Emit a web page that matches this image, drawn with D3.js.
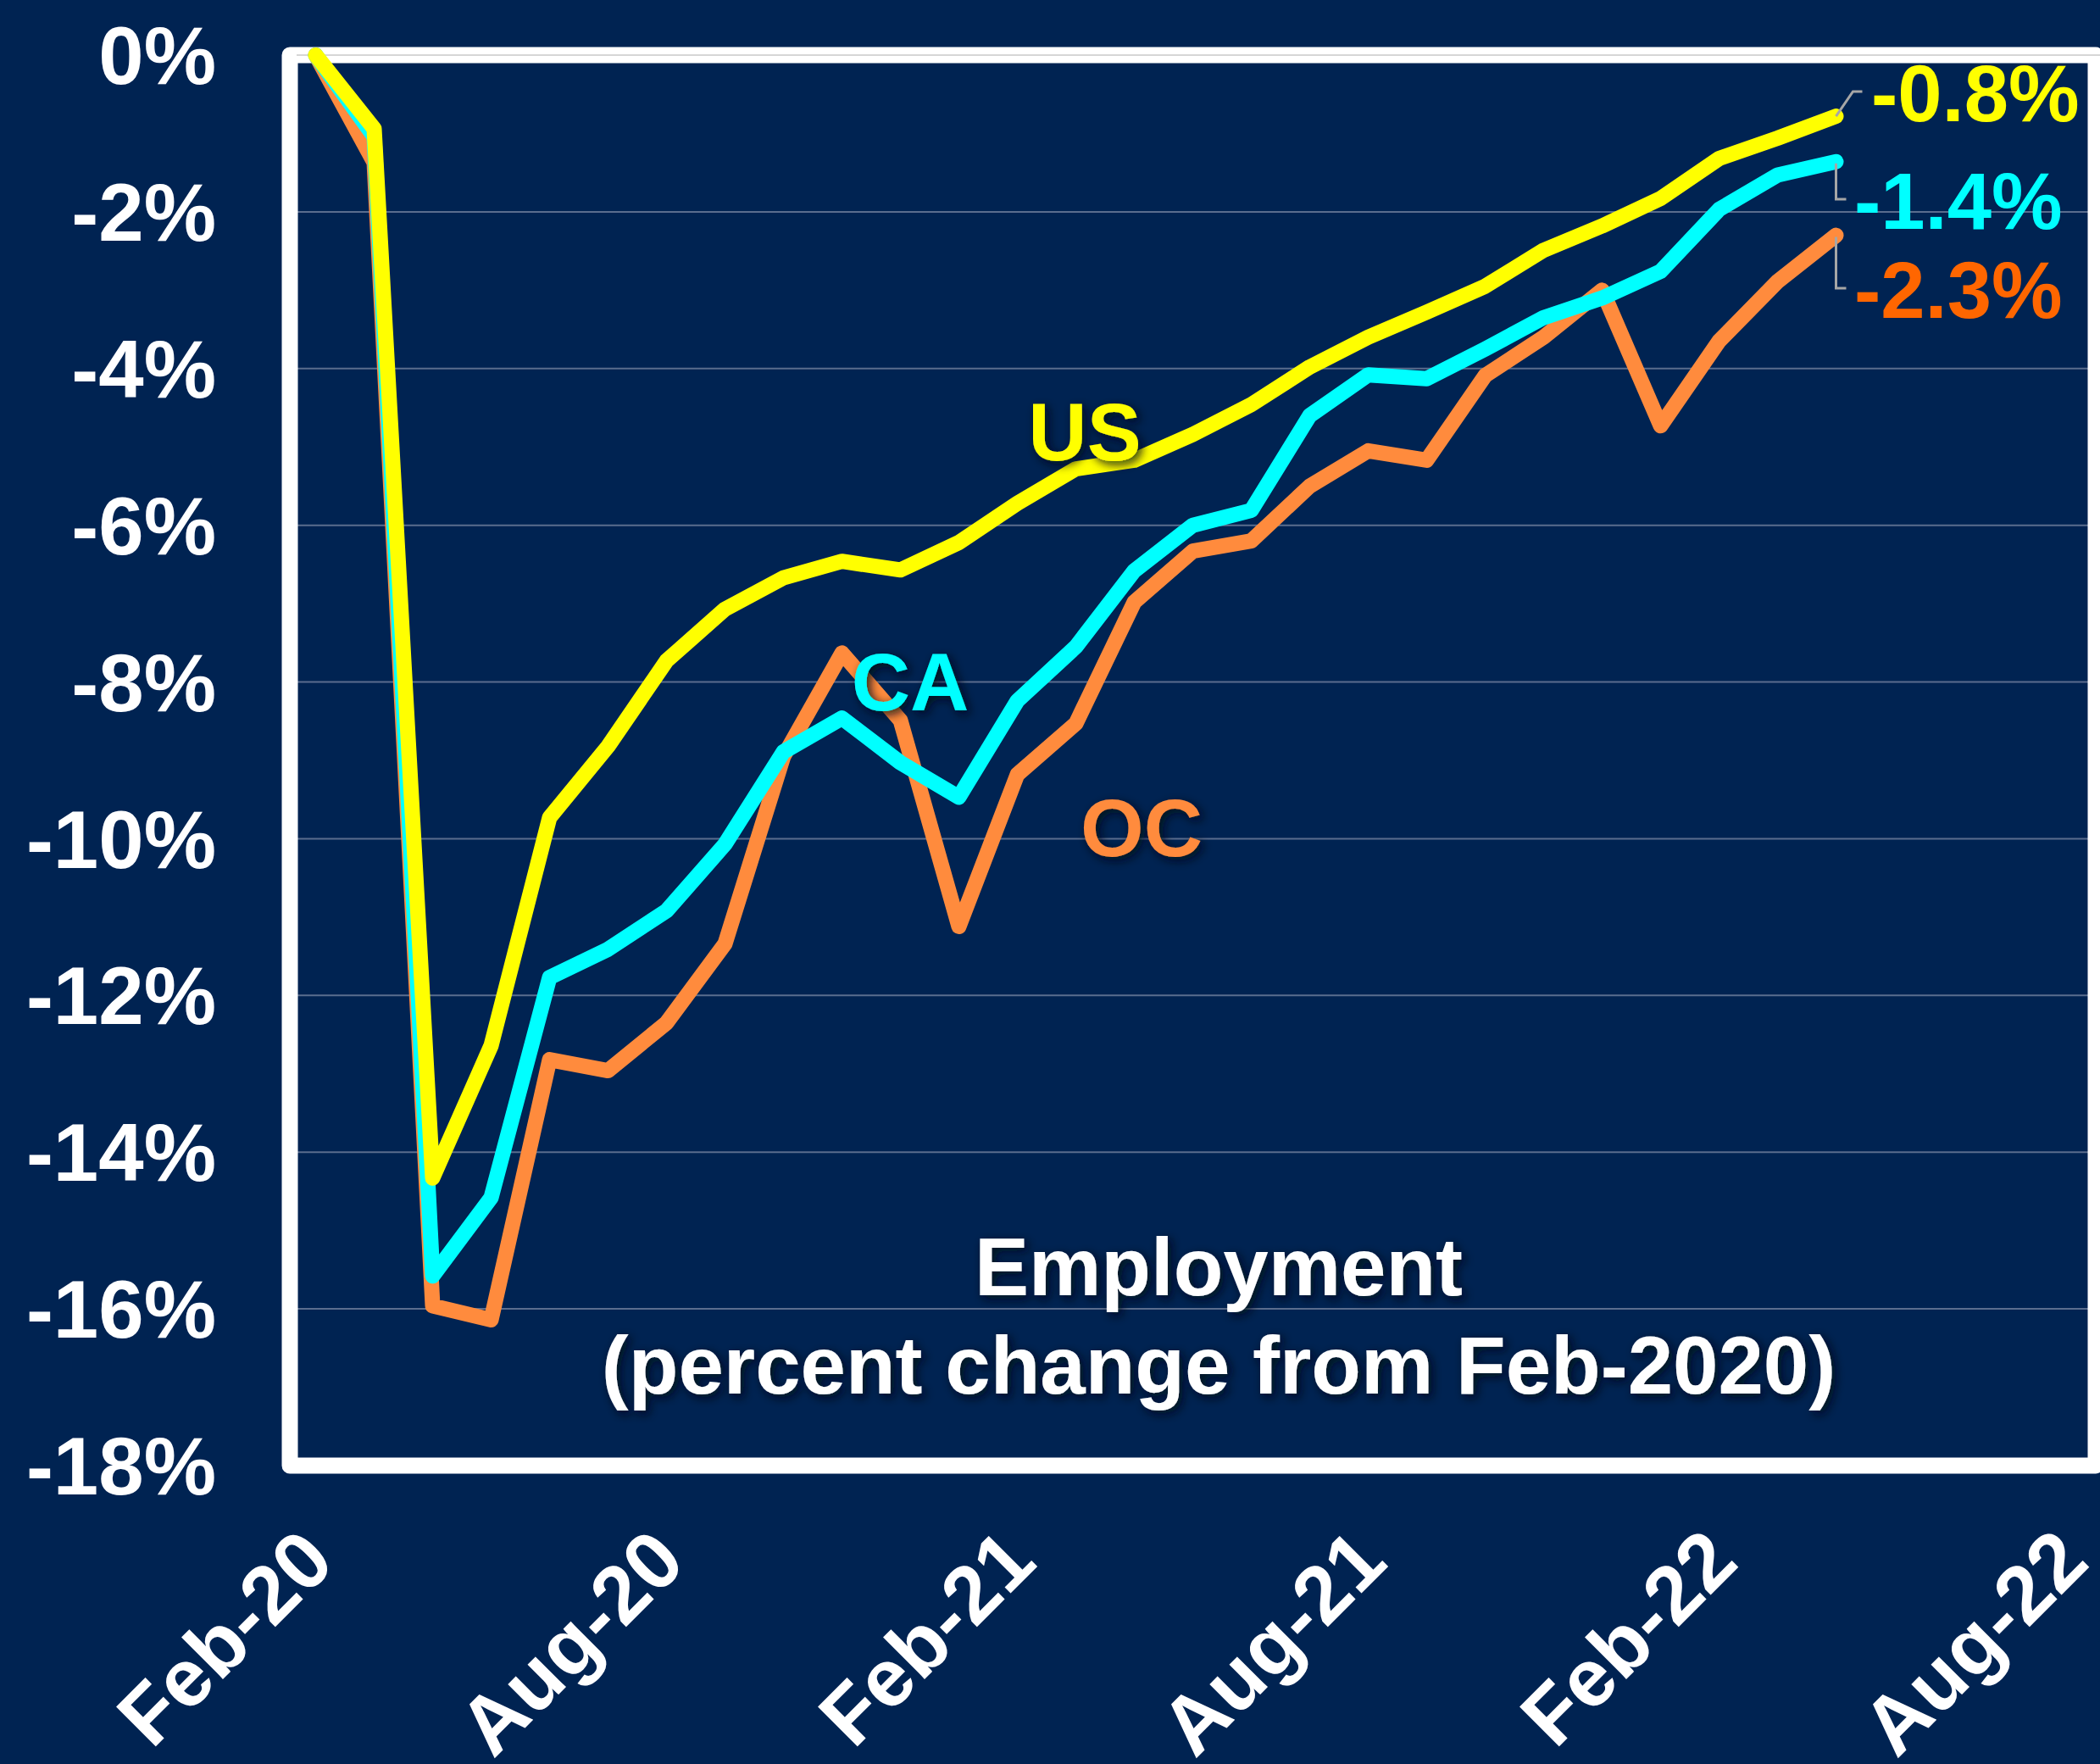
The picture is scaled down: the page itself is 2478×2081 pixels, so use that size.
<!DOCTYPE html>
<html>
<head>
<meta charset="utf-8">
<script src="https://cdn.jsdelivr.net/npm/d3@7"></script>
<style>
  body { margin: 0; background: #002352; }
  svg text { font-family: Arial, "Liberation Sans", sans-serif; font-weight: bold; }
</style>
</head>
<body>
<div id="Chart"></div>
<script>
// categories on the x axis (Feb-20 .. Aug-22), data runs to Apr-22
var months = ["Feb-20","Mar-20","Apr-20","May-20","Jun-20","Jul-20","Aug-20","Sep-20","Oct-20","Nov-20","Dec-20",
              "Jan-21","Feb-21","Mar-21","Apr-21","May-21","Jun-21","Jul-21","Aug-21","Sep-21","Oct-21","Nov-21","Dec-21",
              "Jan-22","Feb-22","Mar-22","Apr-22","May-22","Jun-22","Jul-22","Aug-22"];
var tickLabels = ["Feb-20","Aug-20","Feb-21","Aug-21","Feb-22","Aug-22"];
var yTicks = [0,-2,-4,-6,-8,-10,-12,-14,-16,-18];

// percent change from Feb-2020
var us = [0,-0.94,-14.33,-12.64,-9.73,-8.82,-7.73,-7.07,-6.67,-6.46,-6.57,-6.22,-5.72,-5.28,-5.17,-4.84,-4.46,-3.98,
          -3.6,-3.28,-2.95,-2.49,-2.18,-1.83,-1.32,-1.06,-0.78];
var ca = [0,-1.04,-15.58,-14.58,-11.77,-11.41,-10.92,-10.07,-8.89,-8.46,-9.03,-9.47,-8.24,-7.55,-6.58,-6.0,-5.81,-4.6,
          -4.08,-4.13,-3.75,-3.35,-3.1,-2.76,-1.97,-1.53,-1.36];
var oc = [0,-1.37,-15.96,-16.14,-12.82,-12.96,-12.35,-11.34,-8.95,-7.63,-8.49,-11.12,-9.18,-8.53,-6.98,-6.33,-6.2,-5.5,
          -5.05,-5.17,-4.09,-3.6,-3.0,-4.73,-3.65,-2.89,-2.3];
var endLabels = ["-0.8%","-1.4%","-2.3%"];

var W = 2478, H = 2081;
var svg = d3.select("#Chart").append("svg")
            .attr("width", W).attr("height", H);

svg.append("rect").attr("width", W).attr("height", H).attr("fill", "#002352");

var defs = svg.append("defs");
var f = defs.append("filter").attr("id", "shadow")
            .attr("x", "-20%").attr("y", "-30%").attr("width", "140%").attr("height", "160%");
f.append("feDropShadow").attr("dx", 4).attr("dy", 4).attr("stdDeviation", 6)
 .attr("flood-color", "#000814").attr("flood-opacity", 0.9);

// scales
var x = d3.scalePoint().domain(months).range([338, 2477]).padding(0.5);
var y = d3.scaleLinear().domain([-18, 0]).range([1729, 65]);

// gridlines
svg.append("g").selectAll("line")
   .data(yTicks.filter(d => d < 0 && d > -18))
   .enter().append("line")
   .attr("x1", 342).attr("x2", 2478)
   .attr("y1", d => y(d)).attr("y2", d => y(d))
   .attr("stroke", "#5a6d8e").attr("stroke-width", 2);

// frame
svg.append("rect")
   .attr("x", 342).attr("y", y(0))
   .attr("width", 2473 - 342).attr("height", y(-18) - y(0))
   .attr("fill", "none").attr("stroke", "#fff").attr("stroke-width", 19)
   .attr("stroke-linejoin", "round");
svg.append("line").attr("x1", 350).attr("x2", 2478).attr("y1", y(0)).attr("y2", y(0))
   .attr("stroke", "#d6d6d6").attr("stroke-width", 2);

// y axis
var yAxis = d3.axisLeft(y).tickValues(yTicks).tickSize(0).tickPadding(0)
              .tickFormat(d => d + "%");
var gy = svg.append("g").attr("transform", "translate(255,0)").call(yAxis);
gy.select(".domain").remove();
gy.selectAll("text").attr("fill", "#fff").style("font-size", "96px")
  .attr("x", 0).attr("dy", "0.35em");

// x axis
var xAxis = d3.axisBottom(x).tickValues(tickLabels).tickSize(0);
var gx = svg.append("g").attr("transform", "translate(0," + y(-18) + ")").call(xAxis);
gx.select(".domain").remove();
gx.selectAll("text")
  .attr("fill", "#fff").style("font-size", "96px")
  .attr("y", 0).attr("dy", 0)
  .attr("text-anchor", "end")
  .attr("transform", "translate(25,117) rotate(-45)");

// lines
var line = d3.line().x((d, i) => x(months[i])).y(d => y(d));
var series = [
  {name: "OC", values: oc, color: "#ff8b3d"},
  {name: "CA", values: ca, color: "#00ffff"},
  {name: "US", values: us, color: "#ffff00"}
];
svg.append("g").selectAll("path")
   .data(series).enter().append("path")
   .attr("d", d => line(d.values))
   .attr("fill", "none").attr("stroke", d => d.color)
   .attr("stroke-width", 18)
   .attr("stroke-linejoin", "round").attr("stroke-linecap", "round");

// series name labels
var names = [
  {t: "US", x: 1280, y: 543, c: "#ffff00"},
  {t: "CA", x: 1074, y: 838, c: "#00ffff"},
  {t: "OC", x: 1347, y: 1010, c: "#ff8b3d"}
];
svg.append("g").selectAll("text").data(names).enter().append("text")
   .attr("x", d => d.x).attr("y", d => d.y)
   .attr("text-anchor", "middle").style("font-size", "96px")
   .attr("fill", d => d.c).attr("filter", "url(#shadow)")
   .text(d => d.t);

// end value labels with leader lines
var last = us.length - 1, xe = x(months[last]);
var leaders = [
  [[xe, y(us[last])], [xe + 20, 108], [xe + 31, 108]],
  [[xe, y(ca[last]) + 2], [xe, 235], [xe + 12, 235]],
  [[xe, y(oc[last]) + 2], [xe, 340], [xe + 12, 340]]
];
svg.append("g").selectAll("path").data(leaders).enter().append("path")
   .attr("d", d => d3.line()(d)).attr("fill", "none")
   .attr("stroke", "#a6a6a6").attr("stroke-width", 3);

var endPos = [
  {x: 2208, y: 143, c: "#ffff00"},
  {x: 2188, y: 270, c: "#00ffff"},
  {x: 2188, y: 375, c: "#ff6600"}
];
svg.append("g").selectAll("text").data(endLabels).enter().append("text")
   .attr("x", (d, i) => endPos[i].x).attr("y", (d, i) => endPos[i].y)
   .style("font-size", "94px").attr("fill", (d, i) => endPos[i].c)
   .text(d => d);

// title
var title = svg.append("text").attr("x", 1438).attr("text-anchor", "middle")
   .attr("fill", "#fff").style("font-size", "96px").attr("filter", "url(#shadow)");
title.append("tspan").attr("x", 1438).attr("y", 1528).text("Employment");
title.append("tspan").attr("x", 1438).attr("y", 1644).text("(percent change from Feb-2020)");
</script>
</body>
</html>
